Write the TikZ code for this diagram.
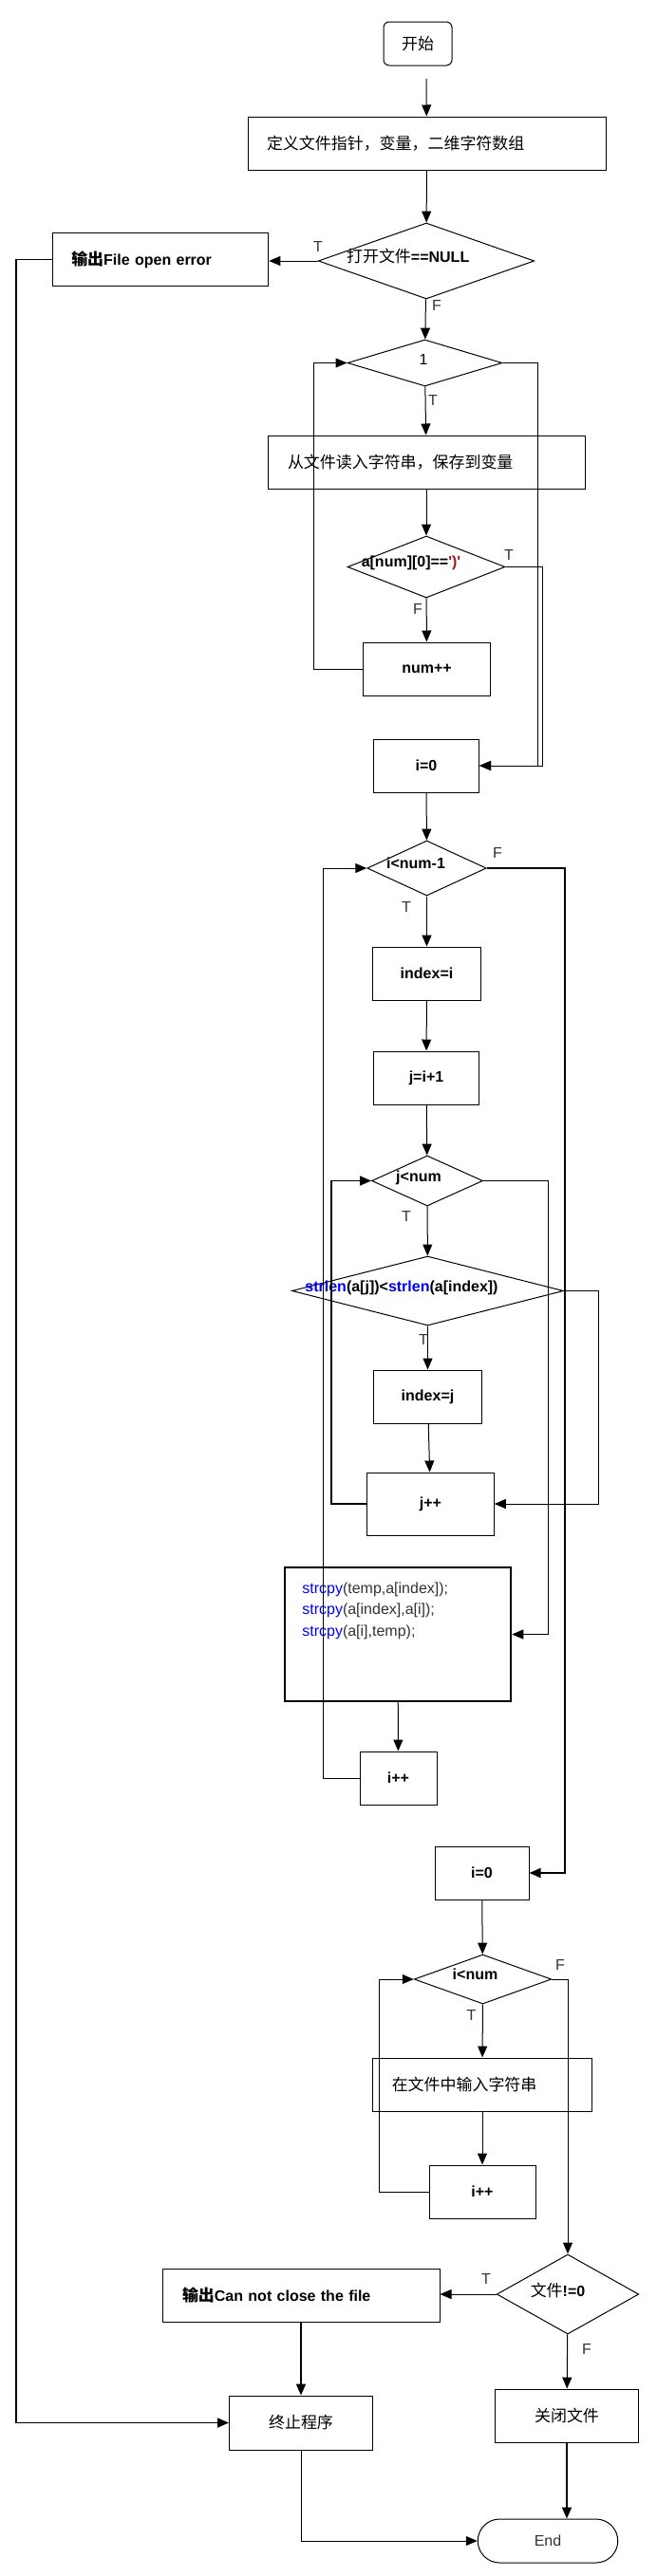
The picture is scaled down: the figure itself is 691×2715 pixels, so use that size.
\documentclass[tikz,border=0pt]{standalone}
\usepackage{fontspec}
\setmainfont{Liberation Sans}
\newfontfamily\cjk[Scale=1.06]{Noto Sans CJK SC}
\usetikzlibrary{arrows.meta, shapes.geometric, shapes.misc}
\definecolor{kwblue}{RGB}{0,0,255}
\definecolor{strred}{RGB}{163,21,21}
\definecolor{lbl}{RGB}{51,51,51}
\newcommand{\zh}[1]{{\cjk #1}}
\newcommand{\kw}[1]{\textcolor{kwblue}{#1}}

\begin{document}
\begin{tikzpicture}[x=1pt, y=-1pt, font=\fontsize{16}{21}\selectfont,
        >={Triangle[length=12pt, width=10pt]}, line width=1pt,
        box/.style={draw, inner sep=0pt, minimum height=56pt, minimum width=#1},
        cond/.style={diamond, draw, inner sep=0pt},
        tf/.style={text=lbl, inner sep=0pt},
        heavy/.style={line width=1.8pt}]
        \useasboundingbox (0,0) rectangle (691,2715);
        % main column
        \node[box=72pt, minimum height=46pt, rounded corners=6pt] (start) at (440,46) {\zh{开始}};
        \coordinate (s0) at (449,83);
        \node[box=377pt, align=left, inner xsep=20pt, text width=337pt] (def) at (449.5,151) {\zh{定义文件指针，变量，二维字符数组}};
        \node[cond, minimum width=227.5pt, minimum height=80pt] (dopen) at (449,275) {};
        \node (dopentxt) at (429.7,270) {\zh{打开文件}\textbf{==NULL}};
        \node[box=227.5pt, align=left, inner xsep=20pt, text width=187.5pt] (err) at (169,273.5) {\textbf{\zh{输出}File open error}};
        \node[cond, minimum width=163pt, minimum height=49pt] (d1) at (447.5,382.5) {};
        \node (d1txt) at (446,379) {1};
        \node[box=334pt, align=left, inner xsep=21pt, text width=292pt] (read) at (449,487) {\zh{从文件读入字符串，保存到变量}};
        \node[cond, minimum width=166pt, minimum height=65pt] (dnum) at (449,597.5) {};
        \node (dnumtxt) at (433,593) {\textbf{a[num][0]==\textcolor{strred}{\textquotesingle)\textquotesingle}}};
        \node[box=133.5pt] (numpp) at (449.5,705) {\textbf{num++}};
        \node[box=111pt] (iz1) at (449,807) {\textbf{i=0}};
        % sorting
        \node[cond, minimum width=125.5pt, minimum height=58pt] (d2) at (449.5,915) {};
        \node (d2txt) at (438,910) {\textbf{i<num-1}};
        \node[box=114pt] (idxi) at (449.5,1026) {\textbf{index=i}};
        \node[box=111pt] (jii) at (449,1136) {\textbf{j=i+1}};
        \node[cond, minimum width=117pt, minimum height=53pt] (dj) at (450,1244.5) {};
        \node (djtxt) at (441,1241) {\textbf{j<num}};
        \node[cond, minimum width=286pt, minimum height=73pt] (dlen) at (450.5,1360.5) {};
        \node (dlentxt) at (423,1357) {\textbf{\kw{strlen}(a[j])<\kw{strlen}(a[index])}};
        \node[box=114pt] (idxj) at (450.5,1472) {\textbf{index=j}};
        \node[box=133.5pt, minimum height=66pt] (jpp) at (453.5,1585) {\textbf{j++}};
        \node[box=238.5pt, minimum height=141pt, line width=2pt] (cpy) at (419,1722.5) {};
        \node[anchor=north west, align=left, text=lbl, font=\fontsize{16}{22.5}\selectfont] (cpytxt) at (314.5,1664)
            {\kw{strcpy}(temp,a[index]);\\ \kw{strcpy}(a[index],a[i]);\\ \kw{strcpy}(a[i],temp);};
        \node[box=81pt] (ipp1) at (419.5,1874) {\textbf{i++}};
        % writing back
        \node[box=99pt] (iz2) at (507.5,1974) {\textbf{i=0}};
        \node[cond, minimum width=144.5pt, minimum height=52pt] (di) at (508.5,2086) {};
        \node (ditxt) at (500.5,2081) {\textbf{i<num}};
        \node[box=230.5pt, align=left, inner xsep=20pt, text width=190.5pt] (zai) at (508,2197) {\zh{在文件中输入字符串}};
        \node[box=112pt] (ipp2) at (508,2310) {\textbf{i++}};
        \node[cond, minimum width=149.5pt, minimum height=84pt] (dfile) at (598,2418) {};
        \node (dfiletxt) at (587.5,2414) {\zh{文件}\textbf{!=0}};
        \node[box=292pt, align=left, inner xsep=21pt, text width=250pt] (can) at (317,2419) {\textbf{\zh{输出}Can not close the file}};
        \node[box=151pt] (close) at (597,2546) {\zh{关闭文件}};
        \node[box=151pt, minimum height=57pt] (stop) at (317,2553.5) {\zh{终止程序}};
        \node[rounded rectangle, draw, inner sep=0pt, minimum width=147.5pt, minimum height=46pt, text=lbl] (end) at (577,2678) {End};
        % T / F
        \node[tf] (l1) at (335,260) {T};
        \node[tf] (l2) at (460,322) {F};
        \node[tf] (l3) at (456,422) {T};
        \node[tf] (l4) at (536,585) {T};
        \node[tf] (l5) at (440,642) {F};
        \node[tf] (l6) at (524,899) {F};
        \node[tf] (l7) at (428,956) {T};
        \node[tf] (l8) at (428,1282) {T};
        \node[tf] (l9) at (446,1412) {T};
        \node[tf] (l10) at (590,2071) {F};
        \node[tf] (l11) at (496.5,2124) {T};
        \node[tf] (l12) at (512,2402) {T};
        \node[tf] (l13) at (618,2476) {F};
        % connectors
        \draw[->] (s0) -- (def);
        \draw[->] (def) -- (dopen);
        \draw[->] (dopen.west) -- (dopen.west -| err.east);
        \draw[->] (dopen) -- (d1);
        \draw[->] (d1) -- (read);
        \draw[->] (read) -- (dnum);
        \draw[->] (dnum) -- (numpp);
        \draw[->] (numpp.west) -- ++(-51.4,0) |- (d1.west);
        \draw[->] (d1.east) -- ++(36.6,0) |- (iz1.east);
        \draw[->] (dnum.east) -- ++(38.6,0) |- (iz1.east);
        \draw[->] (iz1) -- (d2);
        \draw[->, heavy] (d2) -- (idxi);
        \draw[->] (idxi) -- (jii);
        \draw[->] (jii) -- (dj);
        \draw[->] (dj) -- (dlen);
        \draw[->] (dlen) -- (idxj);
        \draw[->] (idxj) -- (jpp);
        \draw[->, heavy] (jpp.west) -- ++(-37.6,0) |- (dj.west);
        \draw[->] (dlen.east) -- ++(36.6,0) |- (jpp.east);
        \draw[->] (dj.east) -- ++(68.2,0) |- (cpy.east);
        \draw[->] (cpy) -- (ipp1);
        \draw[->] (ipp1.west) -- ++(-37.6,0) |- (d2.west);
        \draw[->, heavy] (d2.east) -- ++(82,0) |- (iz2.east);
        \draw[->] (iz2) -- (di);
        \draw[->] (di) -- (zai);
        \draw[->] (zai) -- (ipp2);
        \draw[->] (ipp2.west) -- ++(-52.4,0) |- (di.west);
        \draw[->] (di.east) -| (dfile.north);
        \draw[->] (dfile.west) -- (dfile.west -| can.east);
        \draw[->, heavy] (can) -- (stop);
        \draw[->, heavy] (err.west) -- ++(-37.6,0) |- (stop.west);
        \draw[->] (dfile) -- (close);
        \draw[->, heavy] (close.south) -- (close.south |- end.north);
        \draw[->] (stop.south) |- (end.west);
\end{tikzpicture}
\end{document}
